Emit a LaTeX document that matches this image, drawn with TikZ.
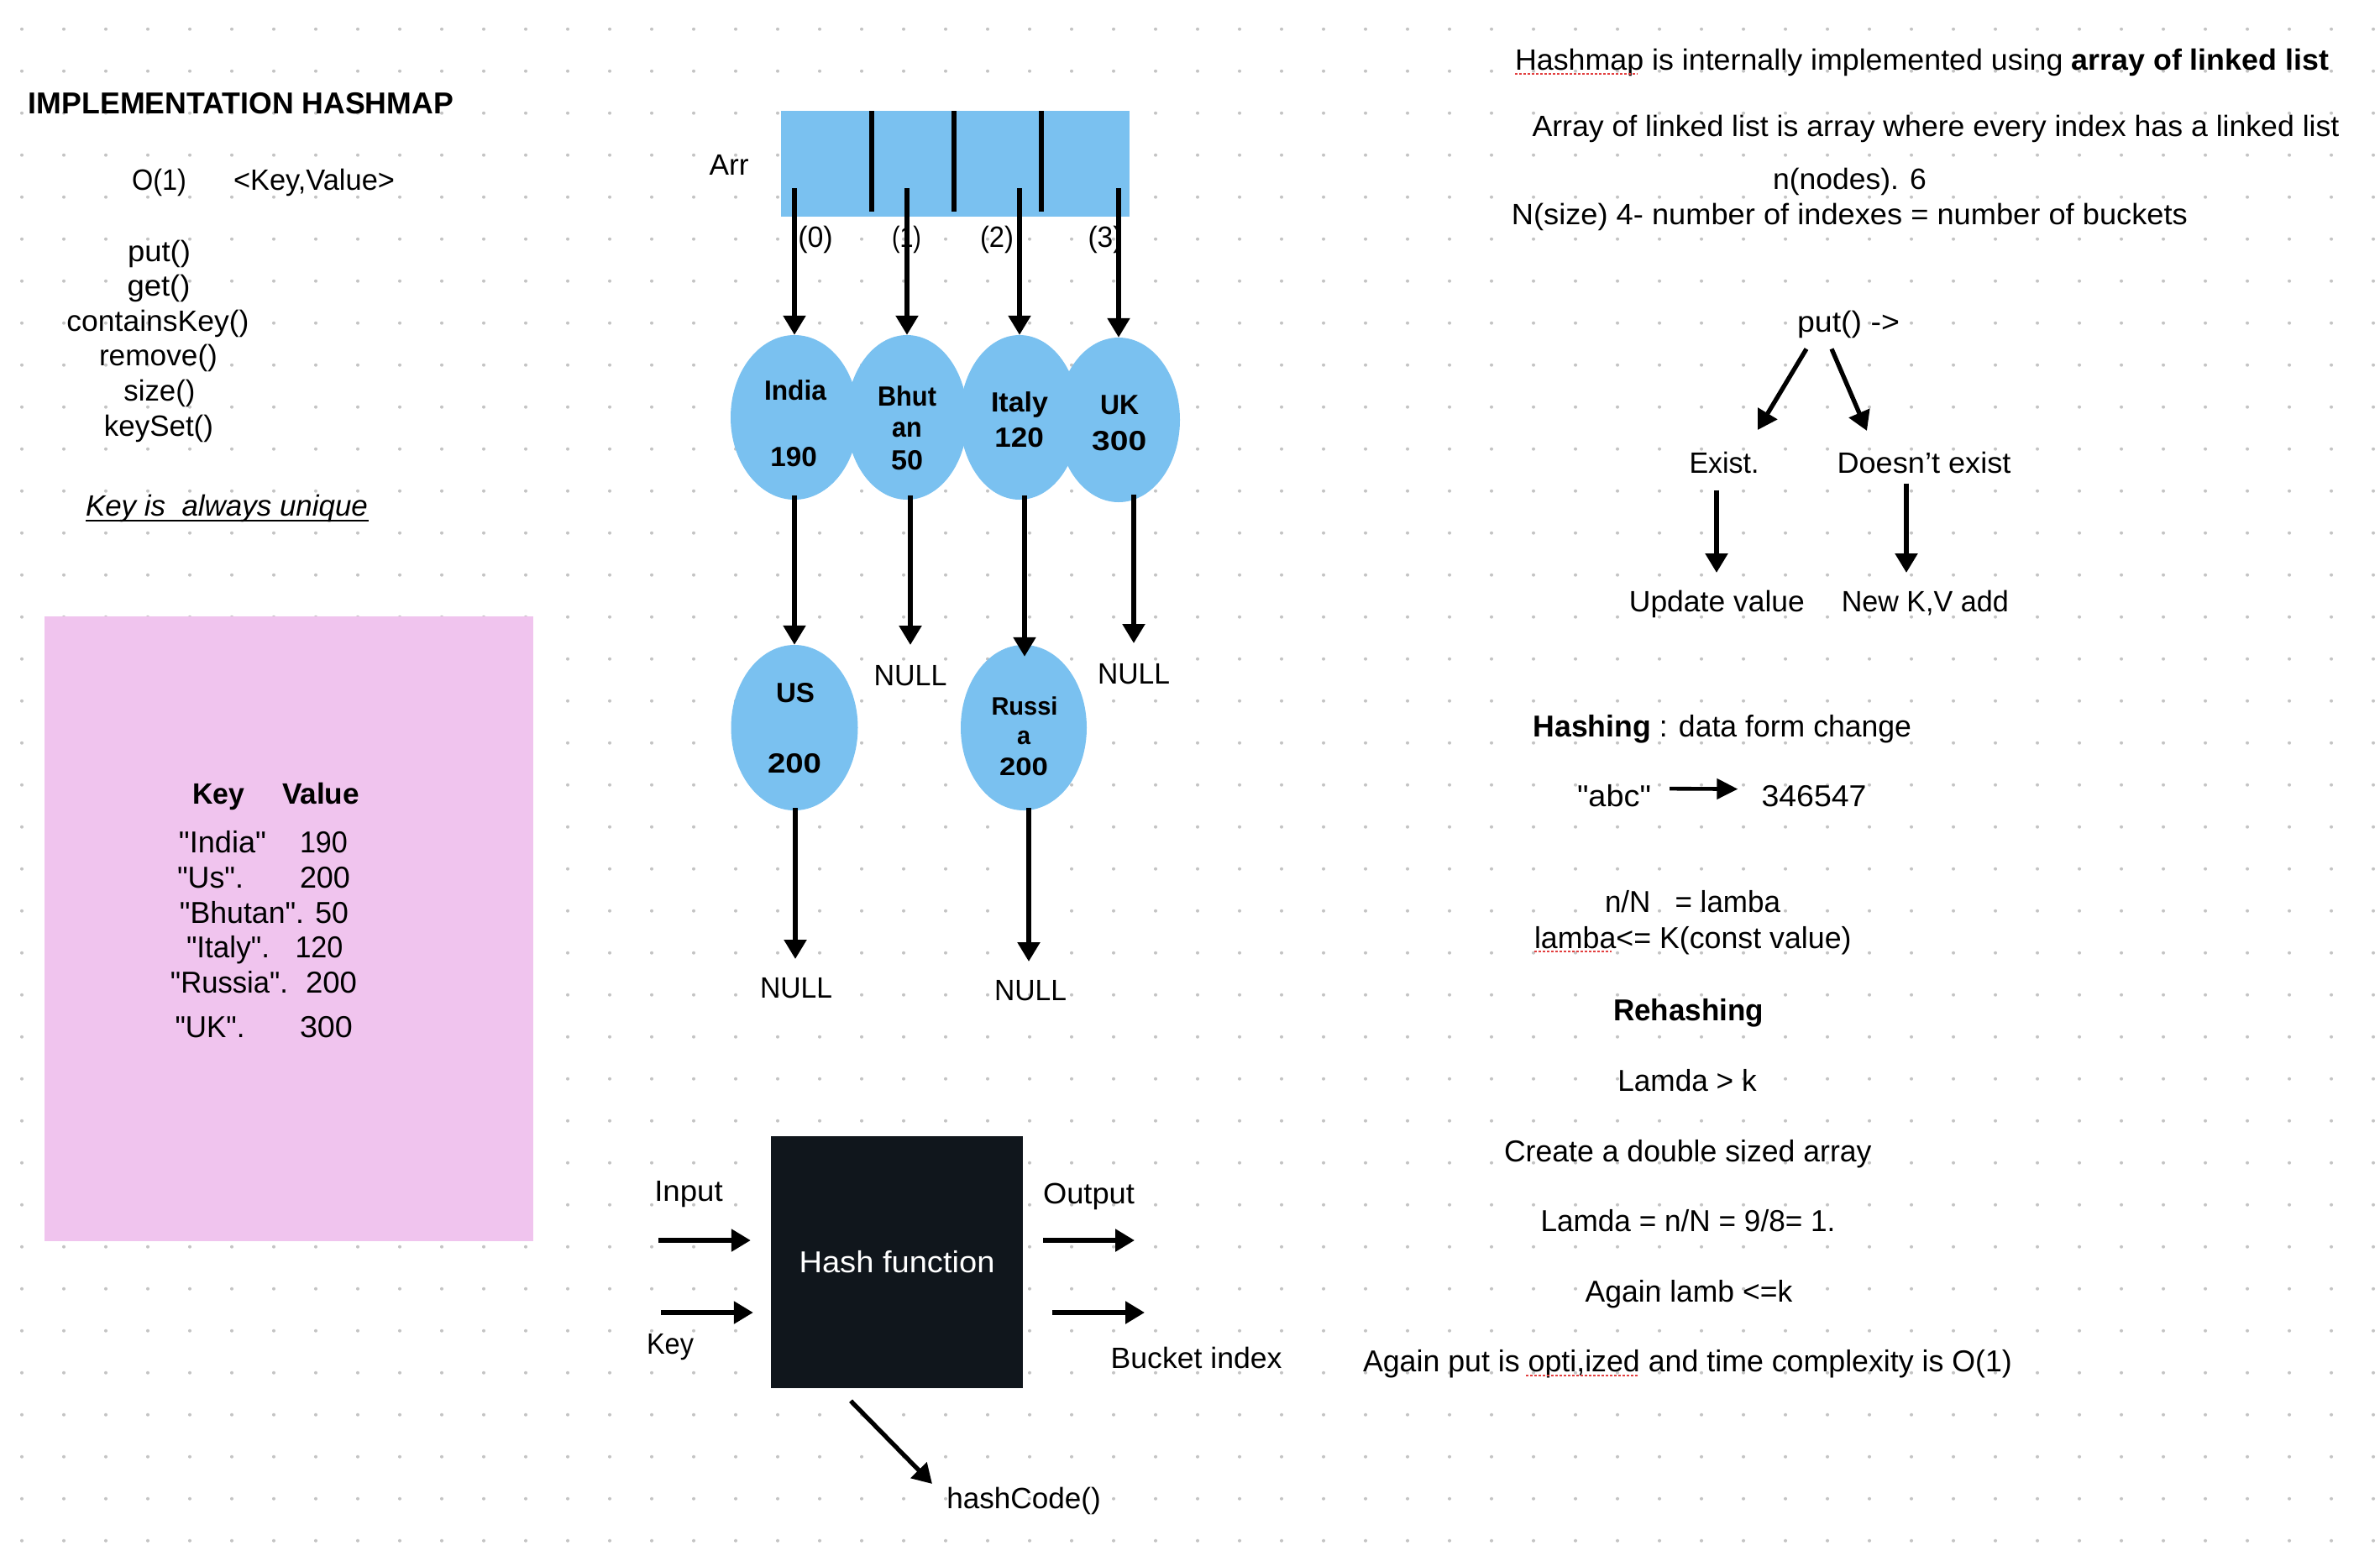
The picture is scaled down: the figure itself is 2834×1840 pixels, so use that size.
\documentclass[tikz,border=0pt]{standalone}
\usepackage{fontspec}
\setmainfont{Liberation Sans}
% a family without TeX ligature mapping, so that " stays a straight quote
\newfontfamily\nsans{Liberation Sans}
\usepackage{graphicx}
\usetikzlibrary{arrows.meta,shapes.geometric,calc}
\definecolor{gridgray}{RGB}{196,196,196}
\definecolor{bucketblue}{RGB}{122,193,240}
\definecolor{notepink}{RGB}{240,196,238}
\definecolor{boxblack}{RGB}{16,22,28}
\definecolor{spellred}{RGB}{226,64,64}
\newcommand\fsz[1]{\nsans\fontsize{#1}{#1}\selectfont}
% set a text to a given width, keeping its natural height
\newcommand\fitto[2]{\resizebox{#1pt}{\height}{#2}}

\begin{document}
\begin{tikzpicture}[x=1pt,y=-1pt,
  txt/.style={inner sep=0pt, anchor=base, font=\fsz{35}},
  big/.style={txt, font=\fsz{36}},
  btxt/.style={txt, font=\fsz{35}\bfseries},
  elabel/.style={txt, font=\fsz{33}\bfseries},
  bucket/.style={ellipse, fill=bucketblue, inner sep=0pt},
  arr/.style={line width=5.3pt, -{Triangle[width=26pt,length=23pt]}},
  arrsm/.style={line width=4.6pt, -{Triangle[width=24pt,length=25pt]}},
  spell/.style={spellred, line width=2.6pt, dash pattern=on 3pt off 2pt},
]
\fill[white] (0,0) rectangle (2834,1840);
\useasboundingbox (0,0) rectangle (2834,1840);

% dotted paper
\foreach \i in {0,...,56}{\foreach \j in {0,...,36}{
  \fill[gridgray] ({26+50*\i},{34.7+50*\j}) circle (2pt);}}

% ---------- left column ----------
\node[txt, font=\fsz{36}\bfseries] (title) at (287,135) {\fitto{506}{IMPLEMENTATION HASHMAP}};
\node[txt] (o1) at (189.5,226) {\fitto{65}{O(1)}};
\node[txt] (kv) at (374,226) {\fitto{192}{<Key,Value>}};
\node[txt] (mput) at (189.5,311) {\fitto{75}{put()}};
\node[txt] (mget) at (189,352) {\fitto{75}{get()}};
\node[txt] (mcont) at (188,394) {\fitto{217}{containsKey()}};
\node[txt] (mrem) at (188.5,435) {\fitto{141}{remove()}};
\node[txt] (msize) at (190,477) {\fitto{85}{size()}};
\node[txt] (mkeys) at (189,519) {\fitto{130}{keySet()}};
\node[txt, font=\fsz{35}\itshape] (uniq) at (270,614) {\fitto{336}{Key is~~always unique}};
\draw[line width=2.2pt] (102,620) -- (439,620);

% key/value note
\node[fill=notepink, minimum width=582pt, minimum height=744pt, inner sep=0pt, anchor=north west] (kvbox) at (53,734) {};
\node[btxt] (thkey) at (260,957) {\fitto{62}{Key}};
\node[btxt] (thval) at (382,957) {\fitto{92}{Value}};
\node[big] (r1k) at (265,1015) {\fitto{104}{"India"}};
\node[big] (r1v) at (385.5,1015) {\fitto{57}{190}};
\node[big] (r2k) at (250.5,1057) {\fitto{79}{"Us".}};
\node[big] (r2v) at (387,1057) {\fitto{60}{200}};
\node[big] (r3) at (314.5,1099) {\fitto{201}{"Bhutan". 50}};
\node[big] (r4k) at (271.5,1140) {\fitto{99}{"Italy".}};
\node[big] (r4v) at (380,1140) {\fitto{57}{120}};
\node[big] (r5k) at (273,1182) {\fitto{140}{"Russia".}};
\node[big] (r5v) at (394.5,1182) {\fitto{61}{200}};
\node[big] (r6k) at (250,1235) {\fitto{83}{"UK".}};
\node[big] (r6v) at (388.5,1235) {\fitto{63}{300}};

% ---------- array of linked lists ----------
\node[txt] (arrname) at (868,208) {\fitto{47}{Arr}};
\node[fill=bucketblue, minimum width=415pt, minimum height=126pt, inner sep=0pt, anchor=north west] (arr) at (930,132) {};
\foreach \x in {1038,1136,1240}{\draw[line width=5.5pt] (\x,132) -- (\x,252);}

\node[bucket, minimum width=152pt, minimum height=196pt] (india) at (946,497) {};
\node[bucket, minimum width=144pt, minimum height=196pt] (bhutan) at (1080,497) {};
\node[bucket, minimum width=142pt, minimum height=196pt] (italy) at (1214,497) {};
\node[bucket, minimum width=146pt, minimum height=196pt] (uk) at (1332,500) {};
\node[bucket, minimum width=151pt, minimum height=197pt] (us) at (946,866.5) {};
\node[bucket, minimum width=150pt, minimum height=197pt] (russia) at (1219,866.5) {};

\node[txt] (i0) at (971,294) {\fitto{41.5}{(0)}};
\node[txt] (i1) at (1079.5,294) {\fitto{35}{(1)}};
\node[txt] (i2) at (1187,294) {\fitto{40}{(2)}};
\node[txt] (i3) at (1316,294) {\fitto{41}{(3)}};

\coordinate (a0) at (946,224);
\coordinate (a1) at (1080,224);
\coordinate (a2) at (1214,224);
\coordinate (a3) at (1332,224);
\draw[arr] (a0) -- (india.north);
\draw[arr] (a1) -- (bhutan.north);
\draw[arr] (a2) -- (italy.north);
\draw[arr] (a3) -- (uk.north);

\coordinate (bnull) at (1084,768);
\coordinate (uknull) at (1350,766);
\coordinate (usnull) at (947,1142);
\coordinate (runull) at (1225,1145);
\draw[arr] ($(india.south)+(0,-5)$) -- (us.north);
\draw[arr] ($(bnull |- bhutan.south)+(0,-5)$) -- (bnull);
\draw[arr] ($(italy.south)+(6,-5)$) -- ($(russia.north)+(1,14)$);
\draw[arr] ($(uknull |- uk.south)+(0,-9)$) -- (uknull);
\draw[arr] ($(us.south)+(1,-3)$) -- (usnull);
\draw[arr] ($(runull |- russia.south)+(0,-3)$) -- (runull);

\node[elabel] (tindia) at (947,476) {\fitto{74}{India}};
\node[elabel] (vindia) at (945,555) {\fitto{55.5}{190}};
\node[elabel] (tbhut) at (1080,483) {\fitto{70}{Bhut}};
\node[elabel] (tan) at (1080,520) {\fitto{35.6}{an}};
\node[elabel] (vbhut) at (1080,559) {\fitto{38}{50}};
\node[elabel] (titaly) at (1214,490) {\fitto{68}{Italy}};
\node[elabel] (vitaly) at (1213.6,532) {\fitto{58.6}{120}};
\node[elabel] (tuk) at (1333,493) {\fitto{46}{UK}};
\node[elabel] (vuk) at (1332.7,536) {\fitto{65}{300}};
\node[elabel] (tus) at (947,836.5) {\fitto{46}{US}};
\node[elabel] (vus) at (946,920) {\fitto{64}{200}};
\node[elabel, font=\fsz{30}\bfseries] (trussi) at (1220,851) {\fitto{79}{Russi}};
\node[elabel, font=\fsz{30}\bfseries] (trussa) at (1219,886) {\fitto{16}{a}};
\node[elabel, font=\fsz{30}\bfseries] (vrussia) at (1219,923.6) {\fitto{58}{200}};

\node[txt] (null1) at (1084,816) {\fitto{87}{NULL}};
\node[txt] (null2) at (1350,814) {\fitto{86}{NULL}};
\node[txt] (null3) at (948,1188) {\fitto{86}{NULL}};
\node[txt] (null4) at (1227,1191) {\fitto{86}{NULL}};

% ---------- hash function ----------
\node[fill=boxblack, minimum width=300pt, minimum height=300pt, inner sep=0pt, text=white, font=\fsz{36}] (hf) at (1068,1503) {\fitto{233}{Hash function}};
\node[txt] (input) at (820,1430) {\fitto{81.5}{Input}};
\node[txt] (keyin) at (798,1612) {\fitto{56}{Key}};
\node[txt] (output) at (1296.5,1433) {\fitto{109}{Output}};
\node[txt] (bucketidx) at (1424.6,1629) {\fitto{204}{Bucket index}};
\node[txt] (hashcode) at (1219,1796) {\fitto{183.5}{hashCode()}};
\coordinate (inS) at (784,1477);
\coordinate (keyS) at (787,1563);
\coordinate (outE) at (1351,1477);
\coordinate (bucE) at (1363,1563);
\coordinate (hcE) at (1110,1767);
\draw[arr] (inS) -- ($(hf.west)+(-24,-26)$);
\draw[arr] (keyS) -- ($(hf.west)+(-21,60)$);
\draw[arr] ($(hf.east)+(24,-26)$) -- (outE);
\draw[arr] ($(hf.east)+(35,60)$) -- (bucE);
\draw[arr] ($(hf.south)+(-55,15)$) -- (hcE);

% ---------- notes, top right ----------
\node[txt] (l1) at (2288.5,83) {\fitto{969}{Hashmap is internally implemented using \textbf{array of linked list}}};
\draw[spell] (1804,88) -- (1950,88);
\node[txt] (l2) at (2305,162) {\fitto{961}{Array of linked list is array where every index has a linked list}};
\node[txt] (l3) at (2202.5,225) {\fitto{183}{n(nodes). 6}};
\node[txt] (l4) at (2202.4,267) {\fitto{805}{N(size) 4- number of indexes = number of buckets}};

% put() decision
\node[txt] (putop) at (2201,395) {\fitto{122}{put() ->}};
\node[txt] (exist) at (2053,563) {\fitto{83}{Exist.}};
\node[txt] (nexist) at (2291,563) {\fitto{207}{Doesn’t exist}};
\node[txt] (upd) at (2044.4,728) {\fitto{209}{Update value}};
\node[txt] (newkv) at (2292.3,728) {\fitto{199}{New K,V add}};
\coordinate (pl) at (2093,512);
\coordinate (pr) at (2223,513);
\coordinate (ul) at (2044,682);
\coordinate (ur) at (2270,682);
\draw[arr] ($(putop.south)+(-50,13)$) -- (pl);
\draw[arr] ($(putop.south)+(-20,13)$) -- (pr);
\draw[arr] ($(ul |- exist.south)+(0,20)$) -- (ul);
\draw[arr] ($(ur |- nexist.south)+(0,12)$) -- (ur);

% hashing and rehashing notes
\node[big] (hashing) at (2050.8,877) {\fitto{450.5}{\textbf{Hashing} : data form change}};
\node[big] (abc) at (1922,960) {\fitto{88}{"abc"}};
\node[big] (num) at (2160,960) {\fitto{125}{346547}};
\draw[arrsm] ($(abc.east)+(22,-8)$) -- ($(num.west)+(-28,-8)$);
\node[big] (lam1) at (2015.5,1086) {\fitto{209}{n/N~~~= lamba}};
\node[big] (lam2) at (2015.8,1129) {\fitto{377.6}{lamba<= K(const value)}};
\draw[spell] (1827,1133) -- (1919,1133);
\node[big, font=\fsz{36}\bfseries] (rehash) at (2010.5,1215) {\fitto{179}{Rehashing}};
\node[big] (lamk) at (2009,1299) {\fitto{165.5}{Lamda > k}};
\node[big] (create) at (2009.8,1383) {\fitto{437.6}{Create a double sized array}};
\node[big] (lameq) at (2010,1466) {\fitto{351}{Lamda = n/N = 9/8= 1.}};
\node[big] (again) at (2011,1550) {\fitto{246.7}{Again lamb <=k}};
\node[big] (againput) at (2009.5,1633) {\fitto{773}{Again put is opti,ized and time complexity is O(1)}};
\draw[spell] (1817,1638) -- (1950,1638);
\end{tikzpicture}
\end{document}
